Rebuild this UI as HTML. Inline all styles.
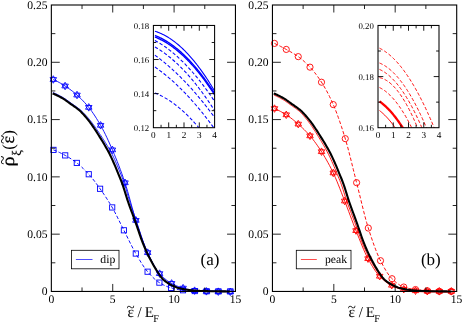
<!DOCTYPE html>
<html><head><meta charset="utf-8"><title>plot</title>
<style>
html,body{margin:0;padding:0;background:#fff;}
body{width:463px;height:324px;overflow:hidden;font-family:"Liberation Serif",serif;}
svg{display:block;will-change:transform;}
svg text{font-family:"Liberation Serif",serif;text-rendering:geometricPrecision;}
</style></head><body>
<svg width="463" height="324" viewBox="0 0 463 324" fill="#000">
<defs>
<clipPath id="cl"><rect x="153.4" y="25.45" width="61.2" height="102.25"/></clipPath>
<clipPath id="cr"><rect x="378" y="25.45" width="61" height="102.25"/></clipPath>
</defs>
<rect width="463" height="324" fill="#fff"/>
<path d="M52.93 92.59 L53.75 92.91 L54.57 93.25 L55.4 93.61 L56.22 93.98 L57.05 94.37 L57.87 94.77 L58.69 95.18 L59.51 95.61 L60.33 96.05 L61.15 96.5 L61.97 96.95 L62.79 97.42 L63.61 97.9 L64.44 98.41 L65.27 98.94 L66.09 99.5 L66.92 100.08 L67.73 100.67 L68.55 101.27 L69.36 101.87 L70.17 102.46 L70.98 103.05 L71.78 103.62 L72.59 104.18 L73.39 104.73 L74.21 105.29 L75.02 105.85 L75.84 106.42 L76.66 107.01 L77.49 107.63 L78.31 108.27 L79.16 108.93 L80.01 109.62 L80.86 110.35 L81.71 111.13 L82.56 111.94 L83.4 112.78 L84.25 113.65 L85.09 114.55 L85.93 115.47 L86.78 116.41 L87.62 117.37 L88.46 118.34 L89.3 119.33 L90.15 120.36 L91 121.43 L91.85 122.54 L92.69 123.67 L93.53 124.83 L94.37 126 L95.21 127.18 L96.05 128.38 L96.9 129.58 L97.74 130.83 L98.59 132.09 L99.43 133.38 L100.26 134.66 L101.1 135.94 L101.94 137.22 L102.78 138.51 L103.62 139.81 L104.46 141.12 L105.3 142.47 L106.15 143.84 L107 145.24 L107.84 146.67 L108.68 148.11 L109.53 149.59 L110.38 151.11 L111.23 152.67 L112.08 154.28 L112.93 155.96 L113.78 157.7 L114.61 159.5 L115.42 161.34 L116.24 163.2 L117.06 165.09 L117.88 167.04 L118.69 169.03 L119.51 171.03 L120.31 173.02 L121.12 174.98 L121.94 176.95 L122.71 178.98 L123.49 181.1 L124.27 183.34 L125.05 185.75 L125.82 188.32 L126.59 190.97 L127.35 193.65 L128.11 196.29 L128.87 198.83 L129.63 201.23 L130.38 203.56 L131.14 205.83 L131.91 208.07 L132.67 210.29 L133.44 212.51 L134.2 214.74 L134.97 217.01 L135.73 219.28 L136.5 221.56 L137.26 223.85 L138.03 226.15 L138.79 228.48 L139.56 230.87 L140.32 233.29 L141.09 235.69 L141.85 238.01 L142.61 240.22 L143.37 242.32 L144.13 244.36 L144.89 246.34 L145.65 248.26 L146.42 250.12 L147.18 251.92 L147.94 253.67 L148.71 255.37 L149.47 257.01 L150.24 258.62 L151.05 260.16 L151.86 261.67 L152.67 263.15 L153.48 264.6 L154.29 266.01 L155.1 267.4 L155.91 268.75 L156.72 270.07 L157.53 271.34 L158.34 272.59 L159.15 273.84 L159.95 275.04 L160.76 276.18 L161.56 277.23 L162.36 278.15 L163.16 278.98 L163.97 279.74 L164.77 280.43 L165.57 281.08 L166.37 281.67 L167.18 282.23 L167.98 282.76 L168.79 283.26 L169.59 283.74 L170.4 284.2 L171.21 284.64 L172.01 285.06 L172.82 285.46 L173.62 285.83 L174.43 286.17 L175.23 286.51 L176.04 286.82 L176.84 287.1 L177.65 287.36 L178.45 287.61 L179.26 287.84 L180.07 288.06 L180.88 288.27 L181.68 288.47 L182.49 288.65 L183.3 288.82 L184.1 288.97 L184.91 289.11 L185.72 289.25 L186.53 289.38 L187.34 289.5 L188.15 289.61 L188.96 289.72 L189.76 289.82 L190.57 289.91 L191.38 289.99 L192.19 290.06 L193 290.13 L193.81 290.2 L194.62 290.27 L195.43 290.34 L196.24 290.4 L197.05 290.45 L197.86 290.51 L198.67 290.55 L199.48 290.6 L200.29 290.64 L201.1 290.67 L201.91 290.7 L202.72 290.73 L203.53 290.76 L204.34 290.78 L205.15 290.8 L205.97 290.83 L206.78 290.85 L207.59 290.87 L208.4 290.88 L209.21 290.9 L210.02 290.92 L210.83 290.93 L211.64 290.95 L212.45 290.96 L213.26 290.97 L214.08 290.99 L214.89 291 L215.7 291.01 L216.51 291.02 L217.32 291.03 L218.13 291.04 L218.94 291.05 L219.76 291.06 L220.57 291.07 L221.38 291.08 L222.19 291.09 L223 291.1 L223.81 291.11 L224.62 291.12 L225.43 291.12 L226.25 291.13 L227.06 291.13 L227.87 291.14 L228.68 291.14 L229.49 291.15 L230.3 291.15" fill="none" stroke="#0000ff" stroke-width="0.85" stroke-linejoin="round" />
<path d="M53.45 149.88 L54.94 150.46 L56.42 151.08 L57.91 151.74 L59.39 152.43 L60.88 153.15 L62.37 153.89 L63.85 154.67 L65.34 155.47 L66.83 156.3 L68.31 157.16 L69.8 158.07 L71.28 159.01 L72.77 160 L74.26 161.03 L75.74 162.11 L77.23 163.25 L78.71 164.45 L80.2 165.73 L81.69 167.07 L83.17 168.48 L84.66 169.95 L86.14 171.47 L87.63 173.03 L89.12 174.65 L90.6 176.34 L92.09 178.12 L93.58 179.98 L95.06 181.91 L96.55 183.89 L98.03 185.92 L99.52 187.97 L101.01 190.06 L102.49 192.18 L103.98 194.35 L105.46 196.57 L106.95 198.85 L108.44 201.19 L109.92 203.6 L111.41 206.08 L112.9 208.65 L114.38 211.36 L115.87 214.2 L117.35 217.13 L118.84 220.12 L120.33 223.13 L121.81 226.14 L123.3 229.11 L124.78 232.03 L126.27 235.01 L127.76 238.03 L129.24 241.04 L130.73 244.03 L132.22 246.95 L133.7 249.78 L135.19 252.48 L136.67 255.05 L138.16 257.6 L139.65 260.11 L141.13 262.55 L142.62 264.89 L144.1 267.12 L145.59 269.19 L147.08 271.08 L148.56 272.8 L150.05 274.45 L151.53 276.02 L153.02 277.51 L154.51 278.9 L155.99 280.18 L157.48 281.34 L158.97 282.36 L160.45 283.26 L161.94 284.1 L163.42 284.89 L164.91 285.62 L166.4 286.29 L167.88 286.89 L169.37 287.42 L170.85 287.87 L172.34 288.27 L173.83 288.64 L175.31 288.98 L176.8 289.3 L178.29 289.58 L179.77 289.83 L181.26 290.04 L182.74 290.22 L184.23 290.37 L185.72 290.5 L187.2 290.63 L188.69 290.74 L190.17 290.84 L191.66 290.92 L193.15 290.99 L194.63 291.04 L196.12 291.08 L197.61 291.12 L199.09 291.15 L200.58 291.17 L202.06 291.19 L203.55 291.21 L205.04 291.23 L206.52 291.25 L208.01 291.27 L209.49 291.28 L210.98 291.3 L212.47 291.32 L213.95 291.33 L215.44 291.34 L216.92 291.35 L218.41 291.35 L219.9 291.35 L221.38 291.35 L222.87 291.35 L224.36 291.35 L225.84 291.35 L227.33 291.35 L228.81 291.35 L230.3 291.35" fill="none" stroke="#0000ff" stroke-width="0.95" stroke-dasharray="3.5 2.0" stroke-linejoin="round" />
<rect x="50.85" y="147.28" width="5.2" height="5.2" fill="none" stroke="#0000ff" stroke-width="0.9"/>
<rect x="62.6" y="152.79" width="5.2" height="5.2" fill="none" stroke="#0000ff" stroke-width="0.9"/>
<rect x="74.2" y="160.31" width="5.2" height="5.2" fill="none" stroke="#0000ff" stroke-width="0.9"/>
<rect x="86.15" y="171.64" width="5.2" height="5.2" fill="none" stroke="#0000ff" stroke-width="0.9"/>
<rect x="97.5" y="186.18" width="5.2" height="5.2" fill="none" stroke="#0000ff" stroke-width="0.9"/>
<rect x="109.6" y="204.83" width="5.2" height="5.2" fill="none" stroke="#0000ff" stroke-width="0.9"/>
<rect x="121.3" y="227.69" width="5.2" height="5.2" fill="none" stroke="#0000ff" stroke-width="0.9"/>
<rect x="133.2" y="250.95" width="5.2" height="5.2" fill="none" stroke="#0000ff" stroke-width="0.9"/>
<rect x="145" y="269.1" width="5.2" height="5.2" fill="none" stroke="#0000ff" stroke-width="0.9"/>
<rect x="156.8" y="280.03" width="5.2" height="5.2" fill="none" stroke="#0000ff" stroke-width="0.9"/>
<rect x="168.5" y="285.34" width="5.2" height="5.2" fill="none" stroke="#0000ff" stroke-width="0.9"/>
<rect x="180.4" y="287.65" width="5.2" height="5.2" fill="none" stroke="#0000ff" stroke-width="0.9"/>
<rect x="192.2" y="288.45" width="5.2" height="5.2" fill="none" stroke="#0000ff" stroke-width="0.9"/>
<rect x="204" y="288.65" width="5.2" height="5.2" fill="none" stroke="#0000ff" stroke-width="0.9"/>
<rect x="215.8" y="288.75" width="5.2" height="5.2" fill="none" stroke="#0000ff" stroke-width="0.9"/>
<rect x="227.7" y="288.75" width="5.2" height="5.2" fill="none" stroke="#0000ff" stroke-width="0.9"/>
<path d="M53.3 79.49 L54.79 80.19 L56.27 80.92 L57.76 81.69 L59.25 82.5 L60.74 83.35 L62.22 84.23 L63.71 85.14 L65.2 86.07 L66.69 87.05 L68.17 88.07 L69.66 89.13 L71.15 90.24 L72.64 91.39 L74.12 92.59 L75.61 93.83 L77.1 95.12 L78.59 96.46 L80.07 97.86 L81.56 99.33 L83.05 100.86 L84.54 102.45 L86.02 104.12 L87.51 105.86 L89 107.68 L90.48 109.6 L91.97 111.63 L93.46 113.76 L94.95 116 L96.43 118.33 L97.92 120.75 L99.41 123.25 L100.9 125.84 L102.38 128.55 L103.87 131.41 L105.36 134.4 L106.85 137.5 L108.33 140.71 L109.82 144 L111.31 147.37 L112.8 150.8 L114.28 154.3 L115.77 157.89 L117.26 161.59 L118.75 165.39 L120.23 169.3 L121.72 173.35 L123.21 177.53 L124.69 181.86 L126.18 186.45 L127.67 191.46 L129.16 196.75 L130.64 202.18 L132.13 207.6 L133.62 212.88 L135.11 217.87 L136.59 222.48 L138.08 226.99 L139.57 231.42 L141.06 235.75 L142.54 239.91 L144.03 243.89 L145.52 247.64 L147.01 251.13 L148.49 254.34 L149.98 257.46 L151.47 260.48 L152.96 263.36 L154.44 266.07 L155.93 268.57 L157.42 270.82 L158.91 272.79 L160.39 274.47 L161.88 276.01 L163.37 277.44 L164.85 278.76 L166.34 279.97 L167.83 281.07 L169.32 282.07 L170.8 282.98 L172.29 283.8 L173.78 284.56 L175.27 285.26 L176.75 285.91 L178.24 286.51 L179.73 287.06 L181.22 287.57 L182.7 288.03 L184.19 288.45 L185.68 288.86 L187.17 289.26 L188.65 289.62 L190.14 289.95 L191.63 290.24 L193.12 290.47 L194.6 290.65 L196.09 290.78 L197.58 290.89 L199.06 291 L200.55 291.09 L202.04 291.17 L203.53 291.24 L205.01 291.3 L206.5 291.35 L207.99 291.4 L209.48 291.45 L210.96 291.5 L212.45 291.54 L213.94 291.57 L215.43 291.6 L216.91 291.63 L218.4 291.65 L219.89 291.67 L221.38 291.69 L222.86 291.7 L224.35 291.72 L225.84 291.73 L227.33 291.74 L228.81 291.75 L230.3 291.75" fill="none" stroke="#0000ff" stroke-width="0.9" stroke-linejoin="round" />
<path d="M53.3 75.74 L56.55 81.37 L50.05 81.37 Z" fill="none" stroke="#0000ff" stroke-width="0.9"/>
<path d="M53.3 83.24 L56.55 77.62 L50.05 77.62 Z" fill="none" stroke="#0000ff" stroke-width="0.9"/>
<path d="M65.1 82.26 L68.35 87.89 L61.85 87.89 Z" fill="none" stroke="#0000ff" stroke-width="0.9"/>
<path d="M65.1 89.76 L68.35 84.14 L61.85 84.14 Z" fill="none" stroke="#0000ff" stroke-width="0.9"/>
<path d="M77 91.28 L80.25 96.91 L73.75 96.91 Z" fill="none" stroke="#0000ff" stroke-width="0.9"/>
<path d="M77 98.78 L80.25 93.16 L73.75 93.16 Z" fill="none" stroke="#0000ff" stroke-width="0.9"/>
<path d="M88.75 103.62 L92 109.24 L85.5 109.24 Z" fill="none" stroke="#0000ff" stroke-width="0.9"/>
<path d="M88.75 111.12 L92 105.49 L85.5 105.49 Z" fill="none" stroke="#0000ff" stroke-width="0.9"/>
<path d="M100.6 121.56 L103.85 127.19 L97.35 127.19 Z" fill="none" stroke="#0000ff" stroke-width="0.9"/>
<path d="M100.6 129.06 L103.85 123.44 L97.35 123.44 Z" fill="none" stroke="#0000ff" stroke-width="0.9"/>
<path d="M112.4 146.13 L115.65 151.75 L109.15 151.75 Z" fill="none" stroke="#0000ff" stroke-width="0.9"/>
<path d="M112.4 153.63 L115.65 148 L109.15 148 Z" fill="none" stroke="#0000ff" stroke-width="0.9"/>
<path d="M125 179.01 L128.25 184.64 L121.75 184.64 Z" fill="none" stroke="#0000ff" stroke-width="0.9"/>
<path d="M125 186.51 L128.25 180.89 L121.75 180.89 Z" fill="none" stroke="#0000ff" stroke-width="0.9"/>
<path d="M135.9 216.61 L139.15 222.24 L132.65 222.24 Z" fill="none" stroke="#0000ff" stroke-width="0.9"/>
<path d="M135.9 224.11 L139.15 218.49 L132.65 218.49 Z" fill="none" stroke="#0000ff" stroke-width="0.9"/>
<path d="M147.7 248.9 L150.95 254.52 L144.45 254.52 Z" fill="none" stroke="#0000ff" stroke-width="0.9"/>
<path d="M147.7 256.4 L150.95 250.77 L144.45 250.77 Z" fill="none" stroke="#0000ff" stroke-width="0.9"/>
<path d="M159.6 269.85 L162.85 275.48 L156.35 275.48 Z" fill="none" stroke="#0000ff" stroke-width="0.9"/>
<path d="M159.6 277.35 L162.85 271.73 L156.35 271.73 Z" fill="none" stroke="#0000ff" stroke-width="0.9"/>
<path d="M171.6 279.68 L174.85 285.3 L168.35 285.3 Z" fill="none" stroke="#0000ff" stroke-width="0.9"/>
<path d="M171.6 287.18 L174.85 281.55 L168.35 281.55 Z" fill="none" stroke="#0000ff" stroke-width="0.9"/>
<path d="M183.1 284.39 L186.35 290.02 L179.85 290.02 Z" fill="none" stroke="#0000ff" stroke-width="0.9"/>
<path d="M183.1 291.89 L186.35 286.27 L179.85 286.27 Z" fill="none" stroke="#0000ff" stroke-width="0.9"/>
<path d="M194.6 286.9 L197.85 292.52 L191.35 292.52 Z" fill="none" stroke="#0000ff" stroke-width="0.9"/>
<path d="M194.6 294.4 L197.85 288.77 L191.35 288.77 Z" fill="none" stroke="#0000ff" stroke-width="0.9"/>
<path d="M206.4 287.6 L209.65 293.22 L203.15 293.22 Z" fill="none" stroke="#0000ff" stroke-width="0.9"/>
<path d="M206.4 295.1 L209.65 289.47 L203.15 289.47 Z" fill="none" stroke="#0000ff" stroke-width="0.9"/>
<path d="M218.3 287.9 L221.55 293.52 L215.05 293.52 Z" fill="none" stroke="#0000ff" stroke-width="0.9"/>
<path d="M218.3 295.4 L221.55 289.77 L215.05 289.77 Z" fill="none" stroke="#0000ff" stroke-width="0.9"/>
<path d="M230.3 288 L233.55 293.62 L227.05 293.62 Z" fill="none" stroke="#0000ff" stroke-width="0.9"/>
<path d="M230.3 295.5 L233.55 289.88 L227.05 289.88 Z" fill="none" stroke="#0000ff" stroke-width="0.9"/>
<path d="M52.6 93.43 L53.41 93.75 L54.22 94.08 L55.03 94.43 L55.85 94.8 L56.66 95.18 L57.47 95.58 L58.28 95.98 L59.09 96.41 L59.9 96.84 L60.71 97.28 L61.53 97.74 L62.34 98.2 L63.15 98.67 L63.96 99.17 L64.77 99.69 L65.58 100.25 L66.39 100.82 L67.21 101.4 L68.02 102 L68.83 102.59 L69.64 103.19 L70.45 103.78 L71.26 104.36 L72.07 104.92 L72.89 105.48 L73.7 106.03 L74.51 106.59 L75.32 107.16 L76.13 107.74 L76.94 108.34 L77.75 108.97 L78.57 109.63 L79.38 110.33 L80.19 111.07 L81 111.85 L81.81 112.66 L82.62 113.51 L83.43 114.39 L84.25 115.29 L85.06 116.22 L85.87 117.17 L86.68 118.14 L87.49 119.13 L88.3 120.13 L89.11 121.16 L89.93 122.23 L90.74 123.34 L91.55 124.48 L92.36 125.64 L93.17 126.82 L93.98 128.02 L94.79 129.22 L95.61 130.44 L96.42 131.68 L97.23 132.95 L98.04 134.25 L98.85 135.54 L99.66 136.84 L100.47 138.14 L101.28 139.43 L102.1 140.74 L102.91 142.07 L103.72 143.41 L104.53 144.79 L105.34 146.19 L106.15 147.62 L106.96 149.07 L107.78 150.55 L108.59 152.06 L109.4 153.61 L110.21 155.21 L111.02 156.87 L111.83 158.6 L112.64 160.38 L113.46 162.2 L114.27 164.06 L115.08 165.94 L115.89 167.86 L116.7 169.84 L117.51 171.84 L118.32 173.84 L119.14 175.8 L119.95 177.76 L120.76 179.76 L121.57 181.84 L122.38 184.02 L123.19 186.37 L124 188.89 L124.82 191.51 L125.63 194.17 L126.44 196.81 L127.25 199.36 L128.06 201.77 L128.87 204.09 L129.68 206.36 L130.5 208.58 L131.31 210.79 L132.12 212.99 L132.93 215.2 L133.74 217.45 L134.55 219.71 L135.36 221.97 L136.18 224.23 L136.99 226.52 L137.8 228.82 L138.61 231.2 L139.42 233.6 L140.23 235.98 L141.04 238.3 L141.86 240.5 L142.67 242.59 L143.48 244.63 L144.29 246.59 L145.1 248.5 L145.91 250.35 L146.72 252.13 L147.54 253.86 L148.35 255.54 L149.16 257.17 L149.97 258.76 L150.78 260.3 L151.59 261.81 L152.4 263.29 L153.22 264.74 L154.03 266.16 L154.84 267.55 L155.65 268.91 L156.46 270.22 L157.27 271.5 L158.08 272.76 L158.9 274 L159.71 275.21 L160.52 276.36 L161.33 277.42 L162.14 278.35 L162.95 279.19 L163.76 279.96 L164.58 280.66 L165.39 281.31 L166.2 281.92 L167.01 282.48 L167.82 283.01 L168.63 283.51 L169.44 283.99 L170.26 284.46 L171.07 284.9 L171.88 285.33 L172.69 285.73 L173.5 286.1 L174.31 286.45 L175.12 286.78 L175.94 287.1 L176.75 287.39 L177.56 287.65 L178.37 287.89 L179.18 288.13 L179.99 288.35 L180.8 288.57 L181.62 288.76 L182.43 288.95 L183.24 289.11 L184.05 289.26 L184.86 289.41 L185.67 289.54 L186.48 289.67 L187.29 289.79 L188.11 289.91 L188.92 290.02 L189.73 290.11 L190.54 290.2 L191.35 290.29 L192.16 290.36 L192.97 290.43 L193.79 290.5 L194.6 290.57 L195.41 290.63 L196.22 290.69 L197.03 290.75 L197.84 290.8 L198.65 290.85 L199.47 290.9 L200.28 290.94 L201.09 290.97 L201.9 291 L202.71 291.03 L203.52 291.06 L204.33 291.08 L205.15 291.1 L205.96 291.13 L206.77 291.15 L207.58 291.17 L208.39 291.18 L209.2 291.2 L210.01 291.22 L210.83 291.23 L211.64 291.25 L212.45 291.26 L213.26 291.27 L214.07 291.29 L214.88 291.3 L215.69 291.31 L216.51 291.32 L217.32 291.33 L218.13 291.34 L218.94 291.35 L219.75 291.36 L220.56 291.37 L221.37 291.38 L222.19 291.39 L223 291.4 L223.81 291.41 L224.62 291.42 L225.43 291.42 L226.24 291.43 L227.05 291.43 L227.87 291.44 L228.68 291.44 L229.49 291.45 L230.3 291.45" fill="none" stroke="#000" stroke-width="2.1" stroke-linejoin="round" />
<path d="M273.97 95.09 L274.76 95.42 L275.55 95.76 L276.34 96.12 L277.13 96.49 L277.92 96.88 L278.72 97.28 L279.52 97.69 L280.31 98.12 L281.11 98.55 L281.91 99 L282.71 99.46 L283.51 99.92 L284.29 100.4 L285.07 100.9 L285.86 101.44 L286.65 102 L287.45 102.57 L288.26 103.16 L289.07 103.76 L289.88 104.36 L290.71 104.96 L291.53 105.54 L292.35 106.11 L293.17 106.67 L293.98 107.23 L294.78 107.78 L295.58 108.34 L296.38 108.91 L297.17 109.5 L297.95 110.11 L298.73 110.75 L299.5 111.44 L300.27 112.16 L301.04 112.93 L301.82 113.73 L302.6 114.57 L303.38 115.44 L304.16 116.34 L304.95 117.27 L305.74 118.22 L306.53 119.18 L307.32 120.17 L308.1 121.17 L308.88 122.18 L309.67 123.24 L310.45 124.34 L311.24 125.47 L312.02 126.63 L312.81 127.81 L313.61 129.01 L314.4 130.22 L315.19 131.43 L315.98 132.67 L316.77 133.94 L317.56 135.23 L318.36 136.54 L319.16 137.85 L319.95 139.15 L320.75 140.45 L321.54 141.76 L322.33 143.09 L323.12 144.43 L323.91 145.79 L324.7 147.19 L325.49 148.61 L326.28 150.06 L327.06 151.53 L327.85 153.03 L328.63 154.57 L329.42 156.15 L330.2 157.79 L330.99 159.5 L331.78 161.26 L332.59 163.07 L333.4 164.92 L334.2 166.78 L335.01 168.69 L335.81 170.65 L336.62 172.65 L337.44 174.65 L338.25 176.62 L339.06 178.58 L339.86 180.56 L340.66 182.6 L341.46 184.74 L342.25 187.05 L343.05 189.54 L343.86 192.14 L344.69 194.8 L345.54 197.44 L346.39 200 L347.24 202.43 L348.09 204.76 L348.93 207.03 L349.78 209.25 L350.62 211.45 L351.46 213.64 L352.3 215.83 L353.14 218.06 L353.98 220.31 L354.82 222.56 L355.66 224.81 L356.5 227.08 L357.33 229.37 L358.17 231.72 L359.01 234.11 L359.86 236.49 L360.7 238.81 L361.55 241.03 L362.4 243.13 L363.25 245.17 L364.09 247.14 L364.94 249.05 L365.79 250.89 L366.63 252.68 L367.48 254.41 L368.33 256.09 L369.17 257.72 L370.02 259.3 L370.86 260.85 L371.7 262.35 L372.55 263.82 L373.39 265.27 L374.23 266.68 L375.08 268.06 L375.92 269.41 L376.77 270.72 L377.61 271.99 L378.45 273.23 L379.29 274.47 L380.14 275.67 L380.97 276.83 L381.81 277.92 L382.65 278.89 L383.49 279.76 L384.33 280.55 L385.16 281.28 L386 281.95 L386.83 282.57 L387.66 283.15 L388.49 283.69 L389.32 284.2 L390.14 284.69 L390.96 285.16 L391.79 285.61 L392.62 286.04 L393.45 286.45 L394.28 286.83 L395.1 287.19 L395.93 287.53 L396.76 287.85 L397.59 288.14 L398.42 288.41 L399.24 288.66 L400.06 288.9 L400.89 289.13 L401.71 289.34 L402.53 289.54 L403.36 289.73 L404.18 289.9 L405.01 290.05 L405.83 290.19 L406.64 290.33 L407.46 290.46 L408.28 290.59 L409.1 290.7 L409.92 290.81 L410.74 290.91 L411.56 291 L412.38 291.08 L413.19 291.16 L414 291.23 L414.82 291.3 L415.63 291.37 L416.45 291.43 L417.26 291.49 L418.08 291.55 L418.89 291.6 L419.71 291.65 L420.52 291.7 L421.34 291.74 L422.16 291.77 L422.97 291.8 L423.79 291.83 L424.6 291.86 L425.41 291.88 L426.22 291.9 L427.04 291.93 L427.85 291.95 L428.66 291.97 L429.47 291.98 L430.29 292 L431.1 292.02 L431.91 292.03 L432.72 292.05 L433.54 292.06 L434.35 292.07 L435.16 292.09 L435.97 292.1 L436.78 292.11 L437.6 292.12 L438.41 292.13 L439.22 292.14 L440.03 292.15 L440.84 292.16 L441.65 292.17 L442.47 292.18 L443.28 292.19 L444.09 292.2 L444.9 292.21 L445.71 292.22 L446.52 292.22 L447.34 292.23 L448.15 292.23 L448.96 292.24 L449.77 292.24 L450.59 292.25 L451.4 292.25" fill="none" stroke="#ff0000" stroke-width="0.9" stroke-linejoin="round" />
<path d="M274.5 43.4 L275.99 44.1 L277.47 44.83 L278.96 45.56 L280.44 46.32 L281.93 47.09 L283.41 47.87 L284.9 48.68 L286.39 49.49 L287.87 50.31 L289.36 51.13 L290.84 51.97 L292.33 52.82 L293.81 53.71 L295.3 54.63 L296.79 55.61 L298.27 56.65 L299.76 57.76 L301.24 58.93 L302.73 60.17 L304.21 61.47 L305.7 62.84 L307.19 64.28 L308.67 65.77 L310.16 67.33 L311.64 68.97 L313.13 70.7 L314.61 72.53 L316.1 74.45 L317.59 76.46 L319.07 78.56 L320.56 80.76 L322.04 83.05 L323.53 85.46 L325.01 88 L326.5 90.67 L327.99 93.48 L329.47 96.43 L330.96 99.51 L332.44 102.74 L333.93 106.13 L335.41 109.75 L336.9 113.59 L338.39 117.65 L339.87 121.9 L341.36 126.32 L342.84 130.91 L344.33 135.65 L345.81 140.54 L347.3 145.78 L348.79 151.36 L350.27 157.19 L351.76 163.18 L353.24 169.23 L354.73 175.25 L356.21 181.16 L357.7 187 L359.19 193.02 L360.67 199.13 L362.16 205.22 L363.64 211.21 L365.13 216.97 L366.61 222.42 L368.1 227.45 L369.59 232.11 L371.07 236.65 L372.56 241.03 L374.04 245.22 L375.53 249.21 L377.01 252.96 L378.5 256.44 L379.99 259.64 L381.47 262.57 L382.96 265.38 L384.44 268.07 L385.93 270.6 L387.41 272.94 L388.9 275.08 L390.39 276.97 L391.87 278.59 L393.36 280.02 L394.84 281.37 L396.33 282.63 L397.81 283.79 L399.3 284.82 L400.79 285.72 L402.27 286.46 L403.76 287.04 L405.24 287.5 L406.73 287.91 L408.21 288.27 L409.7 288.59 L411.19 288.87 L412.67 289.12 L414.16 289.35 L415.64 289.56 L417.13 289.76 L418.61 289.95 L420.1 290.12 L421.59 290.28 L423.07 290.43 L424.56 290.56 L426.04 290.67 L427.53 290.76 L429.01 290.85 L430.5 290.93 L431.99 291.01 L433.47 291.07 L434.96 291.13 L436.44 291.19 L437.93 291.22 L439.41 291.25 L440.9 291.27 L442.39 291.29 L443.87 291.31 L445.36 291.32 L446.84 291.33 L448.33 291.34 L449.81 291.35 L451.3 291.35" fill="none" stroke="#ff0000" stroke-width="0.95" stroke-dasharray="3.5 2.0" stroke-linejoin="round" />
<circle cx="274.5" cy="43.4" r="3.1" fill="none" stroke="#ff0000" stroke-width="0.9"/>
<circle cx="286.25" cy="49.42" r="3.1" fill="none" stroke="#ff0000" stroke-width="0.9"/>
<circle cx="298.25" cy="56.64" r="3.1" fill="none" stroke="#ff0000" stroke-width="0.9"/>
<circle cx="310" cy="67.16" r="3.1" fill="none" stroke="#ff0000" stroke-width="0.9"/>
<circle cx="321.5" cy="82.2" r="3.1" fill="none" stroke="#ff0000" stroke-width="0.9"/>
<circle cx="333.25" cy="104.56" r="3.1" fill="none" stroke="#ff0000" stroke-width="0.9"/>
<circle cx="345.25" cy="138.65" r="3.1" fill="none" stroke="#ff0000" stroke-width="0.9"/>
<circle cx="356.6" cy="182.67" r="3.1" fill="none" stroke="#ff0000" stroke-width="0.9"/>
<circle cx="368.3" cy="228.08" r="3.1" fill="none" stroke="#ff0000" stroke-width="0.9"/>
<circle cx="380.5" cy="260.67" r="3.1" fill="none" stroke="#ff0000" stroke-width="0.9"/>
<circle cx="392" cy="278.72" r="3.1" fill="none" stroke="#ff0000" stroke-width="0.9"/>
<circle cx="403.75" cy="287.04" r="3.1" fill="none" stroke="#ff0000" stroke-width="0.9"/>
<circle cx="415.5" cy="289.55" r="3.1" fill="none" stroke="#ff0000" stroke-width="0.9"/>
<circle cx="427.3" cy="290.75" r="3.1" fill="none" stroke="#ff0000" stroke-width="0.9"/>
<circle cx="439.3" cy="291.25" r="3.1" fill="none" stroke="#ff0000" stroke-width="0.9"/>
<circle cx="451.3" cy="291.35" r="3.1" fill="none" stroke="#ff0000" stroke-width="0.9"/>
<path d="M274.5 108.57 L275.99 109.2 L277.47 109.88 L278.96 110.61 L280.44 111.39 L281.93 112.21 L283.41 113.06 L284.9 113.95 L286.39 114.87 L287.87 115.85 L289.36 116.89 L290.84 117.99 L292.33 119.14 L293.81 120.34 L295.3 121.58 L296.79 122.84 L298.27 124.13 L299.76 125.45 L301.24 126.8 L302.73 128.2 L304.21 129.65 L305.7 131.15 L307.19 132.71 L308.67 134.33 L310.16 136.03 L311.64 137.8 L313.13 139.67 L314.61 141.63 L316.1 143.67 L317.59 145.78 L319.07 147.97 L320.56 150.22 L322.04 152.54 L323.53 154.93 L325.01 157.42 L326.5 159.99 L327.99 162.66 L329.47 165.42 L330.96 168.3 L332.44 171.27 L333.93 174.38 L335.41 177.69 L336.9 181.2 L338.39 184.85 L339.87 188.61 L341.36 192.43 L342.84 196.26 L344.33 200.07 L345.81 203.87 L347.3 207.75 L348.79 211.7 L350.27 215.68 L351.76 219.64 L353.24 223.56 L354.73 227.4 L356.21 231.12 L357.7 234.84 L359.19 238.59 L360.67 242.32 L362.16 245.98 L363.64 249.51 L365.13 252.87 L366.61 256 L368.1 258.85 L369.59 261.52 L371.07 264.11 L372.56 266.59 L374.04 268.94 L375.53 271.13 L377.01 273.13 L378.5 274.93 L379.99 276.49 L381.47 277.92 L382.96 279.27 L384.44 280.53 L385.93 281.69 L387.41 282.75 L388.9 283.71 L390.39 284.55 L391.87 285.29 L393.36 285.95 L394.84 286.57 L396.33 287.15 L397.81 287.68 L399.3 288.15 L400.79 288.58 L402.27 288.94 L403.76 289.25 L405.24 289.51 L406.73 289.76 L408.21 289.98 L409.7 290.18 L411.19 290.36 L412.67 290.52 L414.16 290.65 L415.64 290.76 L417.13 290.85 L418.61 290.93 L420.1 291.01 L421.59 291.08 L423.07 291.14 L424.56 291.19 L426.04 291.23 L427.53 291.25 L429.01 291.27 L430.5 291.29 L431.99 291.31 L433.47 291.32 L434.96 291.33 L436.44 291.34 L437.93 291.35 L439.41 291.35 L440.9 291.35 L442.39 291.35 L443.87 291.35 L445.36 291.35 L446.84 291.35 L448.33 291.35 L449.81 291.35 L451.3 291.35" fill="none" stroke="#ff0000" stroke-width="0.9" stroke-linejoin="round" />
<path d="M274.5 104.82 L277.75 110.45 L271.25 110.45 Z" fill="none" stroke="#ff0000" stroke-width="0.9"/>
<path d="M274.5 112.32 L277.75 106.7 L271.25 106.7 Z" fill="none" stroke="#ff0000" stroke-width="0.9"/>
<path d="M286.25 111.04 L289.5 116.66 L283 116.66 Z" fill="none" stroke="#ff0000" stroke-width="0.9"/>
<path d="M286.25 118.54 L289.5 112.91 L283 112.91 Z" fill="none" stroke="#ff0000" stroke-width="0.9"/>
<path d="M298.25 120.36 L301.5 125.99 L295 125.99 Z" fill="none" stroke="#ff0000" stroke-width="0.9"/>
<path d="M298.25 127.86 L301.5 122.24 L295 122.24 Z" fill="none" stroke="#ff0000" stroke-width="0.9"/>
<path d="M310 132.09 L313.25 137.72 L306.75 137.72 Z" fill="none" stroke="#ff0000" stroke-width="0.9"/>
<path d="M310 139.59 L313.25 133.97 L306.75 133.97 Z" fill="none" stroke="#ff0000" stroke-width="0.9"/>
<path d="M321.5 147.93 L324.75 153.56 L318.25 153.56 Z" fill="none" stroke="#ff0000" stroke-width="0.9"/>
<path d="M321.5 155.43 L324.75 149.81 L318.25 149.81 Z" fill="none" stroke="#ff0000" stroke-width="0.9"/>
<path d="M333.25 169.19 L336.5 174.81 L330 174.81 Z" fill="none" stroke="#ff0000" stroke-width="0.9"/>
<path d="M333.25 176.69 L336.5 171.06 L330 171.06 Z" fill="none" stroke="#ff0000" stroke-width="0.9"/>
<path d="M344.7 197.26 L347.95 202.89 L341.45 202.89 Z" fill="none" stroke="#ff0000" stroke-width="0.9"/>
<path d="M344.7 204.76 L347.95 199.14 L341.45 199.14 Z" fill="none" stroke="#ff0000" stroke-width="0.9"/>
<path d="M356 226.84 L359.25 232.47 L352.75 232.47 Z" fill="none" stroke="#ff0000" stroke-width="0.9"/>
<path d="M356 234.34 L359.25 228.72 L352.75 228.72 Z" fill="none" stroke="#ff0000" stroke-width="0.9"/>
<path d="M368 254.91 L371.25 260.54 L364.75 260.54 Z" fill="none" stroke="#ff0000" stroke-width="0.9"/>
<path d="M368 262.41 L371.25 256.79 L364.75 256.79 Z" fill="none" stroke="#ff0000" stroke-width="0.9"/>
<path d="M379.7 272.46 L382.95 278.09 L376.45 278.09 Z" fill="none" stroke="#ff0000" stroke-width="0.9"/>
<path d="M379.7 279.96 L382.95 274.34 L376.45 274.34 Z" fill="none" stroke="#ff0000" stroke-width="0.9"/>
<path d="M391.75 281.48 L395 287.11 L388.5 287.11 Z" fill="none" stroke="#ff0000" stroke-width="0.9"/>
<path d="M391.75 288.98 L395 283.36 L388.5 283.36 Z" fill="none" stroke="#ff0000" stroke-width="0.9"/>
<path d="M403.75 285.49 L407 291.12 L400.5 291.12 Z" fill="none" stroke="#ff0000" stroke-width="0.9"/>
<path d="M403.75 292.99 L407 287.37 L400.5 287.37 Z" fill="none" stroke="#ff0000" stroke-width="0.9"/>
<path d="M415.5 287 L418.75 292.62 L412.25 292.62 Z" fill="none" stroke="#ff0000" stroke-width="0.9"/>
<path d="M415.5 294.5 L418.75 288.87 L412.25 288.87 Z" fill="none" stroke="#ff0000" stroke-width="0.9"/>
<path d="M427.3 287.5 L430.55 293.12 L424.05 293.12 Z" fill="none" stroke="#ff0000" stroke-width="0.9"/>
<path d="M427.3 295 L430.55 289.37 L424.05 289.37 Z" fill="none" stroke="#ff0000" stroke-width="0.9"/>
<path d="M439.3 287.6 L442.55 293.22 L436.05 293.22 Z" fill="none" stroke="#ff0000" stroke-width="0.9"/>
<path d="M439.3 295.1 L442.55 289.47 L436.05 289.47 Z" fill="none" stroke="#ff0000" stroke-width="0.9"/>
<path d="M451.3 287.6 L454.55 293.22 L448.05 293.22 Z" fill="none" stroke="#ff0000" stroke-width="0.9"/>
<path d="M451.3 295.1 L454.55 289.47 L448.05 289.47 Z" fill="none" stroke="#ff0000" stroke-width="0.9"/>
<path d="M273.7 93.43 L274.51 93.75 L275.32 94.08 L276.13 94.43 L276.95 94.8 L277.76 95.18 L278.57 95.58 L279.38 95.98 L280.19 96.41 L281 96.84 L281.81 97.28 L282.63 97.74 L283.44 98.2 L284.25 98.67 L285.06 99.17 L285.87 99.69 L286.68 100.25 L287.49 100.82 L288.31 101.4 L289.12 102 L289.93 102.59 L290.74 103.19 L291.55 103.78 L292.36 104.36 L293.17 104.92 L293.99 105.48 L294.8 106.03 L295.61 106.59 L296.42 107.16 L297.23 107.74 L298.04 108.34 L298.85 108.97 L299.67 109.63 L300.48 110.33 L301.29 111.07 L302.1 111.85 L302.91 112.66 L303.72 113.51 L304.53 114.39 L305.35 115.29 L306.16 116.22 L306.97 117.17 L307.78 118.14 L308.59 119.13 L309.4 120.13 L310.21 121.16 L311.03 122.23 L311.84 123.34 L312.65 124.48 L313.46 125.64 L314.27 126.82 L315.08 128.02 L315.89 129.22 L316.71 130.44 L317.52 131.68 L318.33 132.95 L319.14 134.25 L319.95 135.54 L320.76 136.84 L321.57 138.14 L322.38 139.43 L323.2 140.74 L324.01 142.07 L324.82 143.41 L325.63 144.79 L326.44 146.19 L327.25 147.62 L328.06 149.07 L328.88 150.55 L329.69 152.06 L330.5 153.61 L331.31 155.21 L332.12 156.87 L332.93 158.6 L333.74 160.38 L334.56 162.2 L335.37 164.06 L336.18 165.94 L336.99 167.86 L337.8 169.84 L338.61 171.84 L339.42 173.84 L340.24 175.8 L341.05 177.76 L341.86 179.76 L342.67 181.84 L343.48 184.02 L344.29 186.37 L345.1 188.89 L345.92 191.51 L346.73 194.17 L347.54 196.81 L348.35 199.36 L349.16 201.77 L349.97 204.09 L350.78 206.36 L351.6 208.58 L352.41 210.79 L353.22 212.99 L354.03 215.2 L354.84 217.45 L355.65 219.71 L356.46 221.97 L357.28 224.23 L358.09 226.52 L358.9 228.82 L359.71 231.2 L360.52 233.6 L361.33 235.98 L362.14 238.3 L362.96 240.5 L363.77 242.59 L364.58 244.63 L365.39 246.59 L366.2 248.5 L367.01 250.35 L367.82 252.13 L368.64 253.86 L369.45 255.54 L370.26 257.17 L371.07 258.76 L371.88 260.3 L372.69 261.81 L373.5 263.29 L374.32 264.74 L375.13 266.16 L375.94 267.55 L376.75 268.91 L377.56 270.22 L378.37 271.5 L379.18 272.76 L380 274 L380.81 275.21 L381.62 276.36 L382.43 277.42 L383.24 278.35 L384.05 279.19 L384.86 279.96 L385.68 280.66 L386.49 281.31 L387.3 281.92 L388.11 282.48 L388.92 283.01 L389.73 283.51 L390.54 283.99 L391.36 284.46 L392.17 284.9 L392.98 285.33 L393.79 285.73 L394.6 286.1 L395.41 286.45 L396.22 286.78 L397.04 287.1 L397.85 287.39 L398.66 287.65 L399.47 287.89 L400.28 288.13 L401.09 288.35 L401.9 288.57 L402.72 288.76 L403.53 288.95 L404.34 289.11 L405.15 289.26 L405.96 289.41 L406.77 289.54 L407.58 289.67 L408.39 289.79 L409.21 289.91 L410.02 290.02 L410.83 290.11 L411.64 290.2 L412.45 290.29 L413.26 290.36 L414.07 290.43 L414.89 290.5 L415.7 290.57 L416.51 290.63 L417.32 290.69 L418.13 290.75 L418.94 290.8 L419.75 290.85 L420.57 290.9 L421.38 290.94 L422.19 290.97 L423 291 L423.81 291.03 L424.62 291.06 L425.43 291.08 L426.25 291.1 L427.06 291.13 L427.87 291.15 L428.68 291.17 L429.49 291.18 L430.3 291.2 L431.11 291.22 L431.93 291.23 L432.74 291.25 L433.55 291.26 L434.36 291.27 L435.17 291.29 L435.98 291.3 L436.79 291.31 L437.61 291.32 L438.42 291.33 L439.23 291.34 L440.04 291.35 L440.85 291.36 L441.66 291.37 L442.47 291.38 L443.29 291.39 L444.1 291.4 L444.91 291.41 L445.72 291.42 L446.53 291.42 L447.34 291.43 L448.15 291.43 L448.97 291.44 L449.78 291.44 L450.59 291.45 L451.4 291.45" fill="none" stroke="#000" stroke-width="2.1" stroke-linejoin="round" />
<rect x="51.35" y="5" width="184.1" height="286.45" fill="none" stroke="#000" stroke-width="1.1"/>
<path d="M112.72 291.45 v-7.5 M112.72 5 v7.5 M174.08 291.45 v-7.5 M174.08 5 v7.5 " stroke="#000" stroke-width="0.85" fill="none"/>
<path d="M82.03 291.45 v-4 M82.03 5 v4 M143.4 291.45 v-4 M143.4 5 v4 M204.77 291.45 v-4 M204.77 5 v4 " stroke="#000" stroke-width="0.85" fill="none"/>
<path d="M51.35 234.16 h8.4 M235.45 234.16 h-8.4 M51.35 176.87 h8.4 M235.45 176.87 h-8.4 M51.35 119.58 h8.4 M235.45 119.58 h-8.4 M51.35 62.29 h8.4 M235.45 62.29 h-8.4 " stroke="#000" stroke-width="0.85" fill="none"/>
<path d="M51.35 262.81 h4 M235.45 262.81 h-4 M51.35 205.51 h4 M235.45 205.51 h-4 M51.35 148.22 h4 M235.45 148.22 h-4 M51.35 90.94 h4 M235.45 90.94 h-4 M51.35 33.64 h4 M235.45 33.64 h-4 " stroke="#000" stroke-width="0.85" fill="none"/>
<text x="51.35" y="302.9" font-size="11.6" text-anchor="middle" >0</text>
<text x="112.72" y="302.9" font-size="11.6" text-anchor="middle" >5</text>
<text x="174.08" y="302.9" font-size="11.6" text-anchor="middle" >10</text>
<text x="235.45" y="302.9" font-size="11.6" text-anchor="middle" >15</text>
<text x="47.55" y="238.06" font-size="11.6" text-anchor="end" >0.05</text>
<text x="47.55" y="180.77" font-size="11.6" text-anchor="end" >0.10</text>
<text x="47.55" y="123.48" font-size="11.6" text-anchor="end" >0.15</text>
<text x="47.55" y="66.19" font-size="11.6" text-anchor="end" >0.20</text>
<text x="47.55" y="8.9" font-size="11.6" text-anchor="end" >0.25</text>
<text x="47.45" y="295.2" font-size="11.6" text-anchor="end" >0</text>
<rect x="272.45" y="5" width="184.25" height="286.45" fill="none" stroke="#000" stroke-width="1.1"/>
<path d="M333.82 291.45 v-7.5 M333.82 5 v7.5 M395.18 291.45 v-7.5 M395.18 5 v7.5 " stroke="#000" stroke-width="0.85" fill="none"/>
<path d="M303.13 291.45 v-4 M303.13 5 v4 M364.5 291.45 v-4 M364.5 5 v4 M425.87 291.45 v-4 M425.87 5 v4 " stroke="#000" stroke-width="0.85" fill="none"/>
<path d="M272.45 234.16 h8.4 M456.7 234.16 h-8.4 M272.45 176.87 h8.4 M456.7 176.87 h-8.4 M272.45 119.58 h8.4 M456.7 119.58 h-8.4 M272.45 62.29 h8.4 M456.7 62.29 h-8.4 " stroke="#000" stroke-width="0.85" fill="none"/>
<path d="M272.45 262.81 h4 M456.7 262.81 h-4 M272.45 205.51 h4 M456.7 205.51 h-4 M272.45 148.22 h4 M456.7 148.22 h-4 M272.45 90.94 h4 M456.7 90.94 h-4 M272.45 33.64 h4 M456.7 33.64 h-4 " stroke="#000" stroke-width="0.85" fill="none"/>
<text x="272.45" y="302.9" font-size="11.6" text-anchor="middle" >0</text>
<text x="333.82" y="302.9" font-size="11.6" text-anchor="middle" >5</text>
<text x="395.18" y="302.9" font-size="11.6" text-anchor="middle" >10</text>
<text x="456.55" y="302.9" font-size="11.6" text-anchor="middle" >15</text>
<text x="268.65" y="238.06" font-size="11.6" text-anchor="end" >0.05</text>
<text x="268.65" y="180.77" font-size="11.6" text-anchor="end" >0.10</text>
<text x="268.65" y="123.48" font-size="11.6" text-anchor="end" >0.15</text>
<text x="268.65" y="66.19" font-size="11.6" text-anchor="end" >0.20</text>
<text x="268.65" y="8.9" font-size="11.6" text-anchor="end" >0.25</text>
<text x="268.55" y="295.2" font-size="11.6" text-anchor="end" >0</text>
<rect x="153.4" y="25.45" width="61.2" height="102.25" fill="#fff"/>
<rect x="378" y="25.45" width="61" height="102.25" fill="#fff"/>
<path d="M154.93 31.24 L155.81 31.52 L156.68 31.82 L157.56 32.13 L158.43 32.46 L159.31 32.81 L160.19 33.18 L161.06 33.56 L161.94 33.97 L162.81 34.39 L163.69 34.83 L164.56 35.28 L165.44 35.76 L166.32 36.25 L167.19 36.76 L168.07 37.29 L168.94 37.84 L169.82 38.4 L170.7 38.98 L171.57 39.58 L172.45 40.2 L173.32 40.84 L174.2 41.49 L175.07 42.16 L175.95 42.85 L176.83 43.56 L177.7 44.28 L178.58 45.02 L179.45 45.78 L180.33 46.56 L181.21 47.36 L182.08 48.17 L182.96 49.01 L183.83 49.86 L184.71 50.73 L185.59 51.61 L186.46 52.51 L187.34 53.44 L188.21 54.38 L189.09 55.33 L189.96 56.31 L190.84 57.3 L191.72 58.31 L192.59 59.34 L193.47 60.39 L194.34 61.45 L195.22 62.54 L196.1 63.64 L196.97 64.76 L197.85 65.89 L198.72 67.05 L199.6 68.22 L200.48 69.41 L201.35 70.62 L202.23 71.84 L203.1 73.09 L203.98 74.35 L204.85 75.63 L205.73 76.92 L206.61 78.24 L207.48 79.57 L208.36 80.92 L209.23 82.29 L210.11 83.68 L210.99 85.08 L211.86 86.51 L212.74 87.95 L213.61 89.4 L214.49 90.88 L215.37 92.38" fill="none" stroke="#0000ff" stroke-width="1.1" stroke-linejoin="round" clip-path="url(#cl)"/>
<path d="M154.93 35.5 L155.81 35.85 L156.68 36.21 L157.56 36.58 L158.43 36.97 L159.31 37.37 L160.19 37.79 L161.06 38.22 L161.94 38.67 L162.81 39.14 L163.69 39.62 L164.56 40.11 L165.44 40.62 L166.32 41.15 L167.19 41.68 L168.07 42.24 L168.94 42.81 L169.82 43.39 L170.7 43.99 L171.57 44.61 L172.45 45.24 L173.32 45.89 L174.2 46.55 L175.07 47.22 L175.95 47.91 L176.83 48.62 L177.7 49.34 L178.58 50.07 L179.45 50.83 L180.33 51.59 L181.21 52.37 L182.08 53.17 L182.96 53.98 L183.83 54.81 L184.71 55.65 L185.59 56.51 L186.46 57.38 L187.34 58.27 L188.21 59.17 L189.09 60.09 L189.96 61.02 L190.84 61.97 L191.72 62.93 L192.59 63.91 L193.47 64.9 L194.34 65.91 L195.22 66.93 L196.1 67.97 L196.97 69.02 L197.85 70.09 L198.72 71.17 L199.6 72.27 L200.48 73.39 L201.35 74.51 L202.23 75.66 L203.1 76.82 L203.98 77.99 L204.85 79.18 L205.73 80.39 L206.61 81.61 L207.48 82.84 L208.36 84.09 L209.23 85.35 L210.11 86.63 L210.99 87.93 L211.86 89.24 L212.74 90.56 L213.61 91.9 L214.49 93.26 L215.37 94.63" fill="none" stroke="#0000ff" stroke-width="1.35" stroke-linejoin="round" clip-path="url(#cl)"/>
<path d="M154.93 37.04 L155.81 37.38 L156.68 37.74 L157.56 38.12 L158.43 38.51 L159.31 38.91 L160.19 39.34 L161.06 39.77 L161.94 40.22 L162.81 40.69 L163.69 41.17 L164.56 41.66 L165.44 42.17 L166.32 42.7 L167.19 43.24 L168.07 43.79 L168.94 44.36 L169.82 44.95 L170.7 45.55 L171.57 46.16 L172.45 46.79 L173.32 47.44 L174.2 48.1 L175.07 48.77 L175.95 49.46 L176.83 50.17 L177.7 50.89 L178.58 51.62 L179.45 52.37 L180.33 53.14 L181.21 53.91 L182.08 54.71 L182.96 55.52 L183.83 56.34 L184.71 57.18 L185.59 58.04 L186.46 58.91 L187.34 59.79 L188.21 60.69 L189.09 61.61 L189.96 62.54 L190.84 63.48 L191.72 64.44 L192.59 65.41 L193.47 66.4 L194.34 67.41 L195.22 68.43 L196.1 69.46 L196.97 70.51 L197.85 71.58 L198.72 72.66 L199.6 73.75 L200.48 74.86 L201.35 75.98 L202.23 77.12 L203.1 78.28 L203.98 79.45 L204.85 80.63 L205.73 81.83 L206.61 83.04 L207.48 84.27 L208.36 85.52 L209.23 86.78 L210.11 88.05 L210.99 89.34 L211.86 90.64 L212.74 91.96 L213.61 93.3 L214.49 94.65 L215.37 96.01" fill="none" stroke="#0000ff" stroke-width="1.35" stroke-linejoin="round" clip-path="url(#cl)"/>
<path d="M154.93 40.45 L155.81 40.93 L156.68 41.42 L157.56 41.93 L158.43 42.45 L159.31 42.98 L160.19 43.53 L161.06 44.08 L161.94 44.65 L162.81 45.23 L163.69 45.83 L164.56 46.43 L165.44 47.05 L166.32 47.68 L167.19 48.32 L168.07 48.97 L168.94 49.64 L169.82 50.32 L170.7 51.01 L171.57 51.71 L172.45 52.43 L173.32 53.16 L174.2 53.9 L175.07 54.65 L175.95 55.41 L176.83 56.19 L177.7 56.98 L178.58 57.78 L179.45 58.59 L180.33 59.42 L181.21 60.26 L182.08 61.11 L182.96 61.97 L183.83 62.85 L184.71 63.73 L185.59 64.63 L186.46 65.54 L187.34 66.47 L188.21 67.4 L189.09 68.35 L189.96 69.31 L190.84 70.28 L191.72 71.27 L192.59 72.27 L193.47 73.28 L194.34 74.3 L195.22 75.33 L196.1 76.38 L196.97 77.44 L197.85 78.51 L198.72 79.59 L199.6 80.69 L200.48 81.79 L201.35 82.91 L202.23 84.04 L203.1 85.19 L203.98 86.35 L204.85 87.51 L205.73 88.7 L206.61 89.89 L207.48 91.09 L208.36 92.31 L209.23 93.54 L210.11 94.78 L210.99 96.04 L211.86 97.3 L212.74 98.58 L213.61 99.87 L214.49 101.18 L215.37 102.49" fill="none" stroke="#0000ff" stroke-width="1.05" stroke-dasharray="3.4 2" stroke-linejoin="round" clip-path="url(#cl)"/>
<path d="M154.93 46.92 L155.81 47.43 L156.68 47.95 L157.56 48.48 L158.43 49.02 L159.31 49.58 L160.19 50.15 L161.06 50.73 L161.94 51.33 L162.81 51.94 L163.69 52.56 L164.56 53.19 L165.44 53.84 L166.32 54.5 L167.19 55.17 L168.07 55.86 L168.94 56.55 L169.82 57.27 L170.7 57.99 L171.57 58.72 L172.45 59.47 L173.32 60.23 L174.2 61.01 L175.07 61.8 L175.95 62.6 L176.83 63.41 L177.7 64.23 L178.58 65.07 L179.45 65.92 L180.33 66.79 L181.21 67.66 L182.08 68.55 L182.96 69.45 L183.83 70.37 L184.71 71.29 L185.59 72.23 L186.46 73.19 L187.34 74.15 L188.21 75.13 L189.09 76.12 L189.96 77.13 L190.84 78.14 L191.72 79.17 L192.59 80.21 L193.47 81.27 L194.34 82.34 L195.22 83.42 L196.1 84.51 L196.97 85.62 L197.85 86.73 L198.72 87.87 L199.6 89.01 L200.48 90.17 L201.35 91.34 L202.23 92.52 L203.1 93.71 L203.98 94.92 L204.85 96.14 L205.73 97.38 L206.61 98.62 L207.48 99.88 L208.36 101.15 L209.23 102.44 L210.11 103.73 L210.99 105.04 L211.86 106.37 L212.74 107.7 L213.61 109.05 L214.49 110.41 L215.37 111.78" fill="none" stroke="#0000ff" stroke-width="1.05" stroke-dasharray="3.4 2" stroke-linejoin="round" clip-path="url(#cl)"/>
<path d="M154.93 55.27 L155.81 55.9 L156.68 56.54 L157.56 57.19 L158.43 57.84 L159.31 58.51 L160.19 59.18 L161.06 59.86 L161.94 60.55 L162.81 61.24 L163.69 61.95 L164.56 62.66 L165.44 63.39 L166.32 64.12 L167.19 64.86 L168.07 65.6 L168.94 66.36 L169.82 67.12 L170.7 67.9 L171.57 68.68 L172.45 69.47 L173.32 70.27 L174.2 71.07 L175.07 71.89 L175.95 72.71 L176.83 73.54 L177.7 74.38 L178.58 75.23 L179.45 76.09 L180.33 76.95 L181.21 77.83 L182.08 78.71 L182.96 79.6 L183.83 80.5 L184.71 81.41 L185.59 82.32 L186.46 83.25 L187.34 84.18 L188.21 85.12 L189.09 86.07 L189.96 87.03 L190.84 88 L191.72 88.97 L192.59 89.96 L193.47 90.95 L194.34 91.95 L195.22 92.96 L196.1 93.97 L196.97 95 L197.85 96.03 L198.72 97.08 L199.6 98.13 L200.48 99.19 L201.35 100.25 L202.23 101.33 L203.1 102.42 L203.98 103.51 L204.85 104.61 L205.73 105.72 L206.61 106.84 L207.48 107.96 L208.36 109.1 L209.23 110.24 L210.11 111.39 L210.99 112.56 L211.86 113.72 L212.74 114.9 L213.61 116.09 L214.49 117.28 L215.37 118.48" fill="none" stroke="#0000ff" stroke-width="1.05" stroke-dasharray="3.4 2" stroke-linejoin="round" clip-path="url(#cl)"/>
<path d="M154.93 67.03 L155.81 67.64 L156.68 68.26 L157.56 68.88 L158.43 69.52 L159.31 70.16 L160.19 70.82 L161.06 71.48 L161.94 72.15 L162.81 72.83 L163.69 73.52 L164.56 74.22 L165.44 74.92 L166.32 75.64 L167.19 76.36 L168.07 77.1 L168.94 77.84 L169.82 78.59 L170.7 79.35 L171.57 80.12 L172.45 80.9 L173.32 81.69 L174.2 82.48 L175.07 83.29 L175.95 84.1 L176.83 84.92 L177.7 85.76 L178.58 86.6 L179.45 87.45 L180.33 88.3 L181.21 89.17 L182.08 90.05 L182.96 90.93 L183.83 91.83 L184.71 92.73 L185.59 93.64 L186.46 94.56 L187.34 95.49 L188.21 96.43 L189.09 97.38 L189.96 98.34 L190.84 99.3 L191.72 100.28 L192.59 101.26 L193.47 102.25 L194.34 103.26 L195.22 104.27 L196.1 105.28 L196.97 106.31 L197.85 107.35 L198.72 108.4 L199.6 109.45 L200.48 110.51 L201.35 111.59 L202.23 112.67 L203.1 113.76 L203.98 114.86 L204.85 115.97 L205.73 117.09 L206.61 118.21 L207.48 119.35 L208.36 120.49 L209.23 121.64 L210.11 122.81 L210.99 123.98 L211.86 125.16 L212.74 126.35 L213.61 127.54 L214.49 128.75 L215.37 129.97" fill="none" stroke="#0000ff" stroke-width="1.05" stroke-dasharray="3.4 2" stroke-linejoin="round" clip-path="url(#cl)"/>
<path d="M154.93 92.94 L155.81 93.29 L156.68 93.65 L157.56 94.03 L158.43 94.43 L159.31 94.84 L160.19 95.26 L161.06 95.69 L161.94 96.14 L162.81 96.61 L163.69 97.08 L164.56 97.57 L165.44 98.08 L166.32 98.6 L167.19 99.13 L168.07 99.68 L168.94 100.24 L169.82 100.81 L170.7 101.4 L171.57 102 L172.45 102.62 L173.32 103.25 L174.2 103.89 L175.07 104.55 L175.95 105.22 L176.83 105.91 L177.7 106.61 L178.58 107.32 L179.45 108.05 L180.33 108.79 L181.21 109.54 L182.08 110.31 L182.96 111.1 L183.83 111.89 L184.71 112.7 L185.59 113.53 L186.46 114.37 L187.34 115.22 L188.21 116.08 L189.09 116.96 L189.96 117.86 L190.84 118.77 L191.72 119.69 L192.59 120.62 L193.47 121.57 L194.34 122.54 L195.22 123.51 L196.1 124.5 L196.97 125.51 L197.85 126.53 L198.72 127.56 L199.6 128.61 L200.48 129.67 L201.35 130.74 L202.23 131.83 L203.1 132.93 L203.98 134.05 L204.85 135.18 L205.73 136.32 L206.61 137.48 L207.48 138.65 L208.36 139.84 L209.23 141.04 L210.11 142.25 L210.99 143.48 L211.86 144.72 L212.74 145.97 L213.61 147.24 L214.49 148.52 L215.37 149.82" fill="none" stroke="#0000ff" stroke-width="1.05" stroke-dasharray="3.4 2" stroke-linejoin="round" clip-path="url(#cl)"/>
<path d="M379.52 48.2 L380.4 48.64 L381.27 49.11 L382.14 49.6 L383.02 50.12 L383.89 50.67 L384.76 51.25 L385.64 51.85 L386.51 52.48 L387.38 53.13 L388.26 53.81 L389.13 54.52 L390 55.26 L390.87 56.02 L391.75 56.82 L392.62 57.63 L393.49 58.48 L394.37 59.35 L395.24 60.25 L396.11 61.17 L396.99 62.12 L397.86 63.1 L398.73 64.11 L399.6 65.14 L400.48 66.2 L401.35 67.29 L402.22 68.41 L403.1 69.55 L403.97 70.71 L404.84 71.91 L405.72 73.13 L406.59 74.38 L407.46 75.66 L408.33 76.96 L409.21 78.29 L410.08 79.65 L410.95 81.03 L411.83 82.44 L412.7 83.88 L413.57 85.34 L414.45 86.83 L415.32 88.35 L416.19 89.9 L417.06 91.47 L417.94 93.07 L418.81 94.7 L419.68 96.35 L420.56 98.03 L421.43 99.74 L422.3 101.47 L423.18 103.23 L424.05 105.02 L424.92 106.84 L425.79 108.68 L426.67 110.55 L427.54 112.44 L428.41 114.37 L429.29 116.32 L430.16 118.29 L431.03 120.3 L431.91 122.33 L432.78 124.39 L433.65 126.47 L434.52 128.58 L435.4 130.72 L436.27 132.89 L437.14 135.08 L438.02 137.3 L438.89 139.55 L439.76 141.82" fill="none" stroke="#ff0000" stroke-width="0.95" stroke-dasharray="3.4 2" stroke-linejoin="round" clip-path="url(#cr)"/>
<path d="M379.52 63.03 L380.4 63.4 L381.27 63.8 L382.14 64.23 L383.02 64.7 L383.89 65.19 L384.76 65.72 L385.64 66.28 L386.51 66.87 L387.38 67.49 L388.26 68.15 L389.13 68.84 L390 69.55 L390.87 70.3 L391.75 71.08 L392.62 71.9 L393.49 72.74 L394.37 73.62 L395.24 74.53 L396.11 75.46 L396.99 76.44 L397.86 77.44 L398.73 78.47 L399.6 79.54 L400.48 80.64 L401.35 81.77 L402.22 82.93 L403.1 84.12 L403.97 85.34 L404.84 86.6 L405.72 87.89 L406.59 89.21 L407.46 90.56 L408.33 91.94 L409.21 93.36 L410.08 94.8 L410.95 96.28 L411.83 97.79 L412.7 99.33 L413.57 100.9 L414.45 102.51 L415.32 104.14 L416.19 105.81 L417.06 107.51 L417.94 109.24 L418.81 111 L419.68 112.8 L420.56 114.62 L421.43 116.48 L422.3 118.37 L423.18 120.29 L424.05 122.24 L424.92 124.22 L425.79 126.24 L426.67 128.29 L427.54 130.37 L428.41 132.48 L429.29 134.62 L430.16 136.79 L431.03 139 L431.91 141.23 L432.78 143.5 L433.65 145.8 L434.52 148.14 L435.4 150.5 L436.27 152.9 L437.14 155.32 L438.02 157.78 L438.89 160.27 L439.76 162.79" fill="none" stroke="#ff0000" stroke-width="0.95" stroke-dasharray="3.4 2" stroke-linejoin="round" clip-path="url(#cr)"/>
<path d="M379.52 69.42 L380.4 69.82 L381.27 70.25 L382.14 70.72 L383.02 71.22 L383.89 71.75 L384.76 72.32 L385.64 72.92 L386.51 73.56 L387.38 74.23 L388.26 74.93 L389.13 75.67 L390 76.44 L390.87 77.25 L391.75 78.09 L392.62 78.96 L393.49 79.86 L394.37 80.8 L395.24 81.78 L396.11 82.78 L396.99 83.82 L397.86 84.9 L398.73 86.01 L399.6 87.15 L400.48 88.33 L401.35 89.53 L402.22 90.78 L403.1 92.05 L403.97 93.37 L404.84 94.71 L405.72 96.09 L406.59 97.5 L407.46 98.95 L408.33 100.43 L409.21 101.94 L410.08 103.49 L410.95 105.07 L411.83 106.68 L412.7 108.33 L413.57 110.01 L414.45 111.73 L415.32 113.48 L416.19 115.26 L417.06 117.08 L417.94 118.93 L418.81 120.81 L419.68 122.73 L420.56 124.68 L421.43 126.67 L422.3 128.69 L423.18 130.74 L424.05 132.83 L424.92 134.95 L425.79 137.1 L426.67 139.29 L427.54 141.51 L428.41 143.76 L429.29 146.05 L430.16 148.38 L431.03 150.73 L431.91 153.12 L432.78 155.55 L433.65 158.01 L434.52 160.5 L435.4 163.02 L436.27 165.58 L437.14 168.17 L438.02 170.8 L438.89 173.46 L439.76 176.16" fill="none" stroke="#ff0000" stroke-width="0.95" stroke-dasharray="3.4 2" stroke-linejoin="round" clip-path="url(#cr)"/>
<path d="M379.52 77.6 L380.4 77.8 L381.27 78.05 L382.14 78.34 L383.02 78.68 L383.89 79.06 L384.76 79.49 L385.64 79.96 L386.51 80.48 L387.38 81.04 L388.26 81.64 L389.13 82.29 L390 82.99 L390.87 83.73 L391.75 84.51 L392.62 85.34 L393.49 86.21 L394.37 87.13 L395.24 88.09 L396.11 89.1 L396.99 90.15 L397.86 91.25 L398.73 92.39 L399.6 93.57 L400.48 94.8 L401.35 96.08 L402.22 97.4 L403.1 98.76 L403.97 100.17 L404.84 101.62 L405.72 103.12 L406.59 104.66 L407.46 106.25 L408.33 107.88 L409.21 109.56 L410.08 111.28 L410.95 113.04 L411.83 114.85 L412.7 116.71 L413.57 118.61 L414.45 120.55 L415.32 122.54 L416.19 124.57 L417.06 126.65 L417.94 128.77 L418.81 130.94 L419.68 133.15 L420.56 135.41 L421.43 137.71 L422.3 140.06 L423.18 142.45 L424.05 144.88 L424.92 147.36 L425.79 149.88 L426.67 152.45 L427.54 155.07 L428.41 157.72 L429.29 160.43 L430.16 163.17 L431.03 165.97 L431.91 168.8 L432.78 171.68 L433.65 174.61 L434.52 177.58 L435.4 180.59 L436.27 183.65 L437.14 186.76 L438.02 189.91 L438.89 193.1 L439.76 196.34" fill="none" stroke="#ff0000" stroke-width="0.95" stroke-dasharray="3.4 2" stroke-linejoin="round" clip-path="url(#cr)"/>
<path d="M379.52 87.57 L380.4 88 L381.27 88.48 L382.14 88.99 L383.02 89.54 L383.89 90.12 L384.76 90.74 L385.64 91.39 L386.51 92.08 L387.38 92.81 L388.26 93.58 L389.13 94.38 L390 95.22 L390.87 96.09 L391.75 97 L392.62 97.94 L393.49 98.93 L394.37 99.95 L395.24 101 L396.11 102.09 L396.99 103.22 L397.86 104.38 L398.73 105.58 L399.6 106.82 L400.48 108.09 L401.35 109.4 L402.22 110.75 L403.1 112.13 L403.97 113.55 L404.84 115 L405.72 116.5 L406.59 118.02 L407.46 119.59 L408.33 121.19 L409.21 122.82 L410.08 124.5 L410.95 126.2 L411.83 127.95 L412.7 129.73 L413.57 131.55 L414.45 133.4 L415.32 135.29 L416.19 137.22 L417.06 139.18 L417.94 141.18 L418.81 143.22 L419.68 145.29 L420.56 147.4 L421.43 149.54 L422.3 151.73 L423.18 153.94 L424.05 156.2 L424.92 158.49 L425.79 160.81 L426.67 163.18 L427.54 165.58 L428.41 168.01 L429.29 170.48 L430.16 172.99 L431.03 175.54 L431.91 178.12 L432.78 180.73 L433.65 183.39 L434.52 186.08 L435.4 188.8 L436.27 191.56 L437.14 194.36 L438.02 197.2 L438.89 200.07 L439.76 202.98" fill="none" stroke="#ff0000" stroke-width="0.95" stroke-dasharray="3.4 2" stroke-linejoin="round" clip-path="url(#cr)"/>
<path d="M379.52 101.37 L380.4 102.01 L381.27 102.67 L382.14 103.36 L383.02 104.08 L383.89 104.83 L384.76 105.61 L385.64 106.41 L386.51 107.24 L387.38 108.1 L388.26 108.99 L389.13 109.9 L390 110.84 L390.87 111.81 L391.75 112.81 L392.62 113.84 L393.49 114.89 L394.37 115.97 L395.24 117.08 L396.11 118.22 L396.99 119.38 L397.86 120.57 L398.73 121.79 L399.6 123.04 L400.48 124.32 L401.35 125.62 L402.22 126.95 L403.1 128.31 L403.97 129.7 L404.84 131.11 L405.72 132.56 L406.59 134.03 L407.46 135.53 L408.33 137.05 L409.21 138.61 L410.08 140.19 L410.95 141.8 L411.83 143.43 L412.7 145.1 L413.57 146.79 L414.45 148.51 L415.32 150.26 L416.19 152.04 L417.06 153.84 L417.94 155.67 L418.81 157.53 L419.68 159.42 L420.56 161.33 L421.43 163.28 L422.3 165.25 L423.18 167.25 L424.05 169.27 L424.92 171.33 L425.79 173.41 L426.67 175.52 L427.54 177.66 L428.41 179.82 L429.29 182.02 L430.16 184.24 L431.03 186.49 L431.91 188.76 L432.78 191.07 L433.65 193.4 L434.52 195.76 L435.4 198.15 L436.27 200.56 L437.14 203.01 L438.02 205.48 L438.89 207.98 L439.76 210.5" fill="none" stroke="#ff0000" stroke-width="2.3" stroke-linejoin="round" clip-path="url(#cr)"/>
<path d="M379.52 110.57 L380.4 111.27 L381.27 111.99 L382.14 112.75 L383.02 113.53 L383.89 114.35 L384.76 115.19 L385.64 116.07 L386.51 116.98 L387.38 117.91 L388.26 118.88 L389.13 119.88 L390 120.91 L390.87 121.96 L391.75 123.05 L392.62 124.17 L393.49 125.32 L394.37 126.5 L395.24 127.71 L396.11 128.95 L396.99 130.22 L397.86 131.52 L398.73 132.85 L399.6 134.21 L400.48 135.6 L401.35 137.03 L402.22 138.48 L403.1 139.96 L403.97 141.47 L404.84 143.02 L405.72 144.59 L406.59 146.2 L407.46 147.83 L408.33 149.49 L409.21 151.19 L410.08 152.91 L410.95 154.67 L411.83 156.46 L412.7 158.27 L413.57 160.12 L414.45 162 L415.32 163.9 L416.19 165.84 L417.06 167.81 L417.94 169.81 L418.81 171.83 L419.68 173.89 L420.56 175.98 L421.43 178.1 L422.3 180.25 L423.18 182.43 L424.05 184.64 L424.92 186.88 L425.79 189.15 L426.67 191.46 L427.54 193.79 L428.41 196.15 L429.29 198.54 L430.16 200.96 L431.03 203.42 L431.91 205.9 L432.78 208.41 L433.65 210.96 L434.52 213.53 L435.4 216.14 L436.27 218.77 L437.14 221.44 L438.02 224.13 L438.89 226.86 L439.76 229.62" fill="none" stroke="#ff0000" stroke-width="1.0" stroke-linejoin="round" clip-path="url(#cr)"/>
<rect x="153.4" y="25.45" width="61.2" height="102.25" fill="none" stroke="#000" stroke-width="1.05"/>
<path d="M168.7 127.7 v-5.3 M168.7 25.45 v5.3 M184 127.7 v-5.3 M184 25.45 v5.3 M199.3 127.7 v-5.3 M199.3 25.45 v5.3 " stroke="#000" stroke-width="0.9" fill="none"/>
<path d="M161.05 127.7 v-2.9 M161.05 25.45 v2.9 M176.35 127.7 v-2.9 M176.35 25.45 v2.9 M191.65 127.7 v-2.9 M191.65 25.45 v2.9 M206.95 127.7 v-2.9 M206.95 25.45 v2.9 " stroke="#000" stroke-width="0.9" fill="none"/>
<path d="M153.4 59.53 h5.3 M214.6 59.53 h-5.3 M153.4 93.62 h5.3 M214.6 93.62 h-5.3 " stroke="#000" stroke-width="0.9" fill="none"/>
<path d="M153.4 42.49 h2.9 M214.6 42.49 h-2.9 M153.4 76.58 h2.9 M214.6 76.58 h-2.9 M153.4 110.66 h2.9 M214.6 110.66 h-2.9 " stroke="#000" stroke-width="0.9" fill="none"/>
<text x="153.4" y="137.9" font-size="9.2" text-anchor="middle" >0</text>
<text x="168.7" y="137.9" font-size="9.2" text-anchor="middle" >1</text>
<text x="184" y="137.9" font-size="9.2" text-anchor="middle" >2</text>
<text x="199.3" y="137.9" font-size="9.2" text-anchor="middle" >3</text>
<text x="214.6" y="137.9" font-size="9.2" text-anchor="middle" >4</text>
<text x="149.2" y="29.05" font-size="8.8" text-anchor="end" >0.18</text>
<text x="149.2" y="63.13" font-size="8.8" text-anchor="end" >0.16</text>
<text x="149.2" y="97.22" font-size="8.8" text-anchor="end" >0.14</text>
<text x="149.2" y="131.3" font-size="8.8" text-anchor="end" >0.12</text>
<rect x="378" y="25.45" width="61" height="102.25" fill="none" stroke="#000" stroke-width="1.05"/>
<path d="M393.25 127.7 v-5.3 M393.25 25.45 v5.3 M408.5 127.7 v-5.3 M408.5 25.45 v5.3 M423.75 127.7 v-5.3 M423.75 25.45 v5.3 " stroke="#000" stroke-width="0.9" fill="none"/>
<path d="M385.62 127.7 v-2.9 M385.62 25.45 v2.9 M400.88 127.7 v-2.9 M400.88 25.45 v2.9 M416.12 127.7 v-2.9 M416.12 25.45 v2.9 M431.38 127.7 v-2.9 M431.38 25.45 v2.9 " stroke="#000" stroke-width="0.9" fill="none"/>
<path d="M378 76.58 h5.3 M439 76.58 h-5.3 " stroke="#000" stroke-width="0.9" fill="none"/>
<path d="M378 51.01 h2.9 M439 51.01 h-2.9 M378 102.14 h2.9 M439 102.14 h-2.9 " stroke="#000" stroke-width="0.9" fill="none"/>
<text x="378" y="137.9" font-size="9.2" text-anchor="middle" >0</text>
<text x="393.25" y="137.9" font-size="9.2" text-anchor="middle" >1</text>
<text x="408.5" y="137.9" font-size="9.2" text-anchor="middle" >2</text>
<text x="423.75" y="137.9" font-size="9.2" text-anchor="middle" >3</text>
<text x="439" y="137.9" font-size="9.2" text-anchor="middle" >4</text>
<text x="373.8" y="29.05" font-size="8.8" text-anchor="end" >0.20</text>
<text x="373.8" y="80.17" font-size="8.8" text-anchor="end" >0.18</text>
<text x="373.8" y="131.3" font-size="8.8" text-anchor="end" >0.16</text>
<rect x="71.4" y="250.3" width="47.6" height="18.5" fill="#fff" stroke="#000" stroke-width="0.8"/>
<path d="M75.9 259.5 H92.5" stroke="#0000ff" stroke-width="0.7"/>
<text x="100.3" y="263" font-size="11.7" text-anchor="start" >dip</text>
<rect x="296.3" y="250.3" width="54.7" height="18.5" fill="#fff" stroke="#000" stroke-width="0.8"/>
<path d="M300.9 259.5 H316.8" stroke="#ff0000" stroke-width="0.7"/>
<text x="325" y="263" font-size="11.7" text-anchor="start" >peak</text>
<text x="210" y="265.2" font-size="17" text-anchor="middle" >(a)</text>
<text x="430.8" y="265.2" font-size="17" text-anchor="middle" >(b)</text>
<text x="130.7" y="317.2" font-size="15.5" text-anchor="middle" >ε</text>
<text x="130.6" y="311.6" font-size="15" text-anchor="middle" >~</text>
<text x="139.7" y="317.2" font-size="15" text-anchor="middle" >/</text>
<text x="149.3" y="317.2" font-size="15" text-anchor="middle" >E</text>
<text x="156.1" y="322.4" font-size="10.3" text-anchor="middle" >F</text>
<text x="351.8" y="317.2" font-size="15.5" text-anchor="middle" >ε</text>
<text x="351.7" y="311.6" font-size="15" text-anchor="middle" >~</text>
<text x="360.8" y="317.2" font-size="15" text-anchor="middle" >/</text>
<text x="370.4" y="317.2" font-size="15" text-anchor="middle" >E</text>
<text x="377.2" y="322.4" font-size="10.3" text-anchor="middle" >F</text>
<g transform="translate(13.6 148) rotate(-90)">
<g transform="translate(-13.5 0) scale(1.13 1)" stroke="#000" stroke-width="0.2">
<text x="0" y="0" font-size="18" text-anchor="middle" >ρ</text>
</g>
<text x="-12.2" y="-5.6" font-size="17" text-anchor="middle" >~</text>
<text x="-4.9" y="7" font-size="13" text-anchor="middle" stroke="#000" stroke-width="0.15">ξ</text>
<text x="1.2" y="0.5" font-size="17" text-anchor="middle" >(</text>
<text x="8.3" y="0" font-size="18" text-anchor="middle" stroke="#000" stroke-width="0.2">ε</text>
<text x="8.7" y="-5.6" font-size="17" text-anchor="middle" >~</text>
<text x="15.2" y="0.5" font-size="17" text-anchor="middle" >)</text>
</g>
</svg>
</body></html>
